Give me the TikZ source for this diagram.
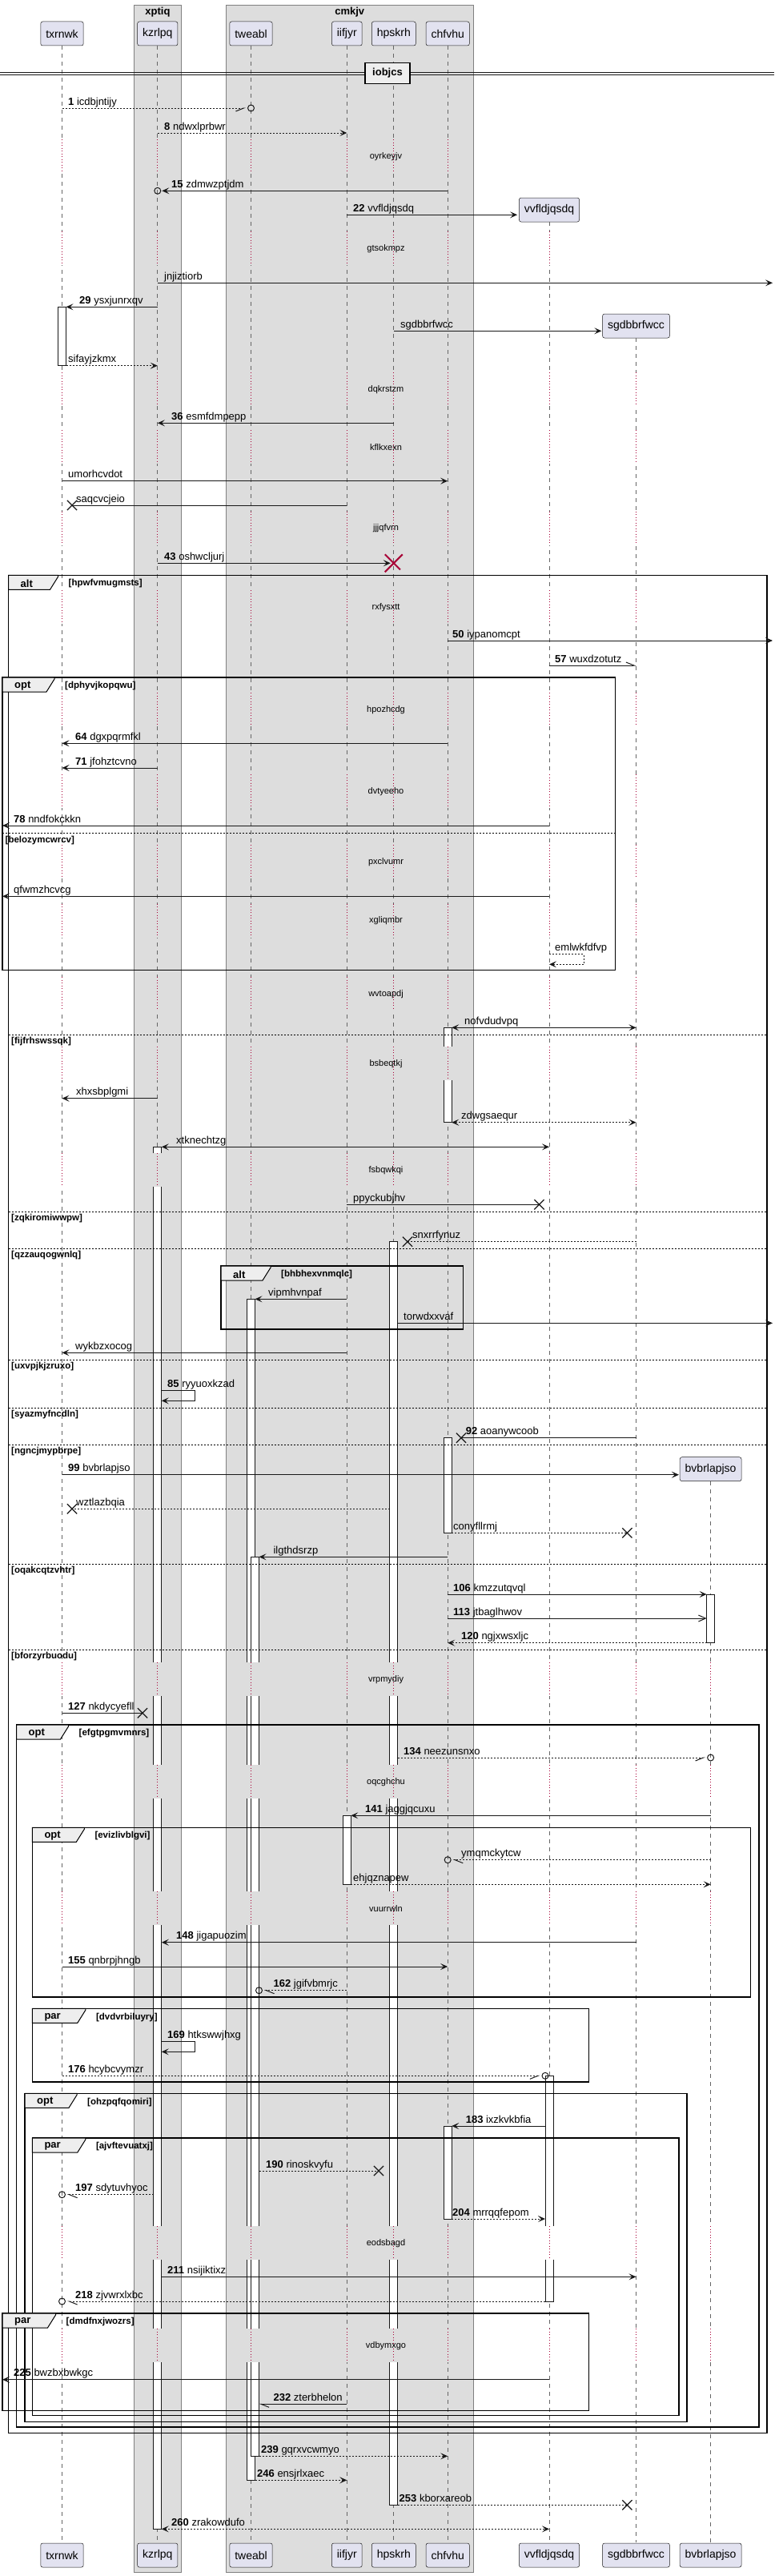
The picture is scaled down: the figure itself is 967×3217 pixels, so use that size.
\documentclass[tikz,border=0pt]{standalone}
\usepackage{fontspec}
\setmainfont{Liberation Sans}
\usetikzlibrary{arrows.meta,shapes.misc}
\definecolor{partfill}{HTML}{E2E2F0}
\definecolor{grpfill}{HTML}{DDDDDD}
\definecolor{tabfill}{HTML}{EEEEEE}
\definecolor{delayred}{HTML}{A80036}
\definecolor{ink}{HTML}{181818}

\def\lanesA{txrnwk/white,kzrlpq/grpfill,tweabl/grpfill,iifjyr/grpfill,hpskrh/grpfill,chfvhu/grpfill}
\edef\lanesB{\lanesA,vvfldjqsdq/white}
\edef\lanesC{\lanesB,sgdbbrfwcc/white}
\edef\lanesD{\lanesC,bvbrlapjso/white}

\tikzset{
  >={Stealth[length=9pt,width=8pt,inset=4pt]},
  part/.style={draw=ink, line width=0.5pt, fill=partfill, rounded corners=2.5pt,
    minimum height=30pt, inner xsep=6.5pt, inner ysep=0pt, font=\fontsize{14}{16}\selectfont},
  grp/.style={draw=black!50, line width=0.5pt, fill=grpfill},
  grptitle/.style={inner sep=0pt, font=\bfseries\fontsize{13}{15}\selectfont},
  divbox/.style={draw=black, line width=1.5pt, fill=tabfill, minimum width=56pt, minimum height=26pt,
    inner sep=0pt, font=\bfseries\fontsize{13}{15}\selectfont},
  lifeline/.style={draw=black!60, line width=0.7pt, dash pattern=on 5pt off 5pt},
  delayline/.style={draw=delayred, line width=0.8pt, dash pattern=on 1pt off 2.5pt},
  delaytext/.style={inner sep=0pt, font=\fontsize{11}{13}\selectfont},
  msg/.style={draw=ink, line width=1pt},
  dsh/.style={dash pattern=on 2pt off 2pt},
  half/.style={-{Straight Barb[length=10pt,width=8pt,harpoon]}},
  halfs/.style={-{Straight Barb[length=10pt,width=8pt,harpoon,swap]}},
  barb/.style={-{Straight Barb[length=9pt,width=8pt]}},
  mlabel/.style={anchor=base west, inner sep=0pt, font=\fontsize{13}{15}\selectfont},
  xmark/.style={cross out, solid, draw=ink, line width=1.2pt, minimum size=11pt, inner sep=0pt},
  kill/.style={cross out, solid, draw=delayred, line width=2pt, minimum size=20pt, inner sep=0pt},
  circ/.style={circle, solid, draw=ink, line width=1pt, minimum size=8pt, inner sep=0pt},
  actbar/.style={draw=ink, line width=0.8pt},
  grpframe/.style={draw=black, line width=1.5pt},
  tab/.style={draw=black, line width=1pt, fill=tabfill},
  kind/.style={anchor=west, inner sep=0pt, font=\bfseries\fontsize{13}{15}\selectfont},
  cond/.style={anchor=west, inner sep=0pt, font=\bfseries\fontsize{11.5}{13}\selectfont},
  elseline/.style={draw=black, line width=1pt, dash pattern=on 2pt off 2pt},
}

% activation bars: whole, closed top, open both ends, closed bottom
\newcommand\barbox[3]{\draw[actbar, fill=white] (#1,#2) rectangle (#1+10,#3);}
\newcommand\bartop[3]{\fill[white] (#1,#2) rectangle (#1+10,#3);
  \draw[actbar] (#1,#3) -- (#1,#2) -- (#1+10,#2) -- (#1+10,#3);}
\newcommand\barmid[3]{\fill[white] (#1,#2) rectangle (#1+10,#3);
  \draw[actbar] (#1,#2) -- (#1,#3) (#1+10,#2) -- (#1+10,#3);}
\newcommand\barend[3]{\fill[white] (#1,#2) rectangle (#1+10,#3);
  \draw[actbar] (#1,#2) -- (#1,#3) -- (#1+10,#3) -- (#1+10,#2);}

% delay: top y, text, lifelines, name
\newcommand\delaygap[4]{%
  \foreach \p/\bg in #3 {
    \draw[\bg, line width=2.5pt] (\p |- 0,#1) -- (\p |- 0,#1+42);
    \draw[delayline] (\p |- 0,#1) -- (\p |- 0,#1+42);
  }
  \node (#4) [delaytext] at (482,#1+21.5) {#2};}

% frame: name, x0, y0, x1, y1, kind, condition, tab width
\newcommand\seqframe[8]{%
  \draw[grpframe] (#2,#3) rectangle (#4,#5);
  \draw[tab] (#2,#3) -- (#2+#8,#3) -- (#2+#8,#3+2) -- (#2+#8-10,#3+18) -- (#2,#3+18) -- cycle;
  \node (#1-kind) [kind] at (#2+15,#3+10.7) {#6};
  \node (#1-cond) [cond] at (#2+#8+13,#3+10.7) {[#7]};}

% else line: name, x0, x1, y, condition
\newcommand\elsepart[5]{%
  \draw[elseline] (#2,#4) -- (#3,#4);
  \node (#1) [cond] at (#2+3.5,#4+8.5) {[#5]};}

\begin{document}
\begin{tikzpicture}[x=1pt,y=-1pt]
\useasboundingbox (0,0) rectangle (967,3217);
\fill[white] (0,0) rectangle (967,3217);

% boxes
\draw[grp] (167.6,6) rectangle (226.6,3212.3);
\draw[grp] (282.4,6) rectangle (591,3212.3);
\node (xptiq) [grptitle] at (197,15) {xptiq};
\node (cmkjv) [grptitle] at (436.7,15) {cmkjv};

% participants
\node (txrnwk) [part] at (77.5,42) {txrnwk};
\node (kzrlpq) [part] at (196.8,42) {kzrlpq};
\node (tweabl) [part] at (313.5,42) {tweabl};
\node (iifjyr) [part] at (433.3,42) {iifjyr};
\node (hpskrh) [part] at (491.8,42) {hpskrh};
\node (chfvhu) [part] at (559.2,42) {chfvhu};
\node (vvfldjqsdq) [part] at (686,262) {vvfldjqsdq};
\node (sgdbbrfwcc) [part] at (794.5,407) {sgdbbrfwcc};
\node (bvbrlapjso) [part] at (887.6,1834.7) {bvbrlapjso};

\coordinate (txrnwk-r) at ([xshift=5pt]txrnwk.center);
\coordinate (kzrlpq-l) at ([xshift=-5pt]kzrlpq.center);
\coordinate (kzrlpq-r) at ([xshift=5pt]kzrlpq.center);
\coordinate (tweabl-r) at ([xshift=5pt]tweabl.center);
\coordinate (tweabl-rr) at ([xshift=10pt]tweabl.center);
\coordinate (iifjyr-r) at ([xshift=5pt]iifjyr.center);
\coordinate (hpskrh-l) at ([xshift=-5pt]hpskrh.center);
\coordinate (hpskrh-r) at ([xshift=5pt]hpskrh.center);
\coordinate (chfvhu-r) at ([xshift=5pt]chfvhu.center);
\coordinate (vvfldjqsdq-l) at ([xshift=-5pt]vvfldjqsdq.center);
\coordinate (bvbrlapjso-l) at ([xshift=-5pt]bvbrlapjso.center);
\coordinate (left-edge) at (3,0);
\coordinate (right-edge) at (965,0);

% lifelines
\draw[lifeline] (txrnwk.south) -- (txrnwk |- 0,3175);
\draw[lifeline] (kzrlpq.south) -- (kzrlpq |- 0,3175);
\draw[lifeline] (tweabl.south) -- (tweabl |- 0,3175);
\draw[lifeline] (iifjyr.south) -- (iifjyr |- 0,3175);
\draw[lifeline] (hpskrh.south) -- (hpskrh |- 0,3175);
\draw[lifeline] (chfvhu.south) -- (chfvhu |- 0,3175);
\draw[lifeline] (vvfldjqsdq.south) -- (vvfldjqsdq |- 0,3175);
\draw[lifeline] (sgdbbrfwcc.south) -- (sgdbbrfwcc |- 0,3175);
\draw[lifeline] (bvbrlapjso.south) -- (bvbrlapjso |- 0,3175);

\node (txrnwk-end) [part] at (txrnwk |- 0,3191) {txrnwk};
\node (kzrlpq-end) [part] at (kzrlpq |- 0,3191) {kzrlpq};
\node (tweabl-end) [part] at (tweabl |- 0,3191) {tweabl};
\node (iifjyr-end) [part] at (iifjyr |- 0,3191) {iifjyr};
\node (hpskrh-end) [part] at (hpskrh |- 0,3191) {hpskrh};
\node (chfvhu-end) [part] at (chfvhu |- 0,3191) {chfvhu};
\node (vvfldjqsdq-end) [part] at (vvfldjqsdq |- 0,3191) {vvfldjqsdq};
\node (sgdbbrfwcc-end) [part] at (sgdbbrfwcc |- 0,3191) {sgdbbrfwcc};
\node (bvbrlapjso-end) [part] at (bvbrlapjso |- 0,3191) {bvbrlapjso};

% divider
\draw[ink, line width=1pt] (0,90) -- (967,90) (0,93.3) -- (967,93.3);
\node (iobjcs) [divbox] at (484,91.5) {iobjcs};

% delays
\delaygap{174}{oyrkeyjv}{\lanesA}{d1}
\delaygap{289}{gtsokmpz}{\lanesB}{d2}
\delaygap{465}{dqkrstzm}{\lanesC}{d3}
\delaygap{537}{kflkxexn}{\lanesC}{d4}
\delaygap{638.5}{jjjqfvrn}{\lanesC}{d5}
\delaygap{737}{rxfysxtt}{\lanesC}{d6}
\delaygap{865}{hpozhcdg}{\lanesC}{d7}
\delaygap{967}{dvtyeeho}{\lanesC}{d8}
\delaygap{1055}{pxclvumr}{\lanesC}{d9}
\delaygap{1128.5}{xgliqmbr}{\lanesC}{d10}
\delaygap{1220}{wvtoapdj}{\lanesC}{d11}
\delaygap{1307}{bsbeqtkj}{\lanesC}{d12}
\delaygap{1440}{fsbqwkqi}{\lanesC}{d13}
\delaygap{2076}{vrpmydiy}{\lanesD}{d14}
\delaygap{2204}{oqcghchu}{\lanesD}{d15}
\delaygap{2362}{vuurrwln}{\lanesD}{d16}
\delaygap{2780}{eodsbagd}{\lanesD}{d17}
\delaygap{2908}{vdbymxgo}{\lanesD}{d18}

% activations
\barbox{72}{383.3}{456.7}
\bartop{554.3}{1283.3}{1307}
\barend{554.3}{1349}{1401.7}
\bartop{191.8}{1432.3}{1440}
\barmid{191.8}{1482}{2076}
\barmid{191.8}{2118}{2204}
\barmid{191.8}{2246}{2362}
\barmid{191.8}{2404}{2780}
\barmid{191.8}{2822}{2908}
\barend{191.8}{2950}{3158.3}
\bartop{486.6}{1550.7}{2076}
\barmid{486.6}{2118}{2204}
\barmid{486.6}{2246}{2362}
\barmid{486.6}{2404}{2780}
\barmid{486.6}{2822}{2908}
\barend{486.6}{2950}{3128.3}
\bartop{308.5}{1622.3}{2076}
\barmid{308.5}{2118}{2204}
\barmid{308.5}{2246}{2362}
\barmid{308.5}{2404}{2780}
\barmid{308.5}{2822}{2908}
\barend{308.5}{2950}{3097.3}
\barbox{554.3}{1795.7}{1914.3}
\bartop{313.5}{1944.3}{2076}
\barmid{313.5}{2118}{2204}
\barmid{313.5}{2246}{2362}
\barmid{313.5}{2404}{2780}
\barmid{313.5}{2822}{2908}
\barend{313.5}{2950}{3067.3}
\barbox{882.6}{1991}{2051.7}
\barbox{428.3}{2267.3}{2353.3}
\bartop{681}{2592.3}{2780}
\barend{681}{2822}{2874}
\barbox{554.3}{2655}{2771}

% frames
\seqframe{alt1}{10.5}{718.3}{958}{3038.3}{alt}{hpwfvmugmsts}{62}
\seqframe{opt1}{3}{846}{768.5}{1211.7}{opt}{dphyvjkopqwu}{65}
\elsepart{e1}{3}{768.5}{1040.7}{belozymcwrcv}
\elsepart{e2}{10.5}{958}{1292.3}{fijfrhswssqk}
\elsepart{e3}{10.5}{958}{1513.3}{zqkiromiwwpw}
\elsepart{e4}{10.5}{958}{1559.3}{qzzauqogwnlq}
\seqframe{alt2}{276}{1581}{578.5}{1660}{alt}{bhbhexvnmqlc}{62}
\elsepart{e5}{10.5}{958}{1698.3}{uxvpjkjzruxo}
\elsepart{e6}{10.5}{958}{1758.3}{syazmyfncdln}
\elsepart{e7}{10.5}{958}{1804.3}{ngncjmypbrpe}
\elsepart{e8}{10.5}{958}{1953.3}{oqakcqtzvhtr}
\elsepart{e9}{10.5}{958}{2060}{bforzyrbuodu}
\seqframe{opt2}{20.5}{2154}{948}{3031}{opt}{efgtpgmvmnrs}{65}
\seqframe{opt3}{40.3}{2282.3}{937.3}{2494}{opt}{evizlivblgvi}{65}
\seqframe{par1}{40.3}{2508.3}{735.6}{2600}{par}{dvdvrbiluyry}{66.5}
\seqframe{opt4}{31}{2614.3}{858}{3024.3}{opt}{ohzpqfqomiri}{65}
\seqframe{par2}{40.3}{2670}{848}{3016.7}{par}{ajvftevuatxj}{66.5}
\seqframe{par3}{3}{2889}{735.6}{3010.7}{par}{dmdfnxjwozrs}{66.5}

% messages
\node (c1) [circ] at (tweabl |- 0,135) {};
\draw[msg, dsh, halfs, shorten >=2pt] (txrnwk |- 0,135) -- (c1.west);
\node (m1) [mlabel] at (85,131) {\textbf{1} icdbjntijy};
\draw[msg, dsh, ->] (kzrlpq |- 0,166) -- (iifjyr |- 0,166);
\node (m8) [mlabel] at (205,162) {\textbf{8} ndwxlprbwr};
\node (c15) [circ] at (kzrlpq |- 0,238.3) {};
\draw[msg, ->, shorten >=1pt] (chfvhu |- 0,238.3) -- (c15.east);
\node (m15) [mlabel] at (214,234.3) {\textbf{15} zdmwzptjdm};
\draw[msg, ->, shorten >=2pt] (iifjyr |- 0,268.3) -- (vvfldjqsdq.west |- 0,268.3);
\node (m22) [mlabel] at (441,264.3) {\textbf{22} vvfldjqsdq};
\draw[msg, ->] (kzrlpq |- 0,353.3) -- (right-edge |- 0,353.3);
\node (m-jnj) [mlabel] at (205,349.3) {jnjiztiorb};
\draw[msg, ->] (kzrlpq |- 0,383.3) -- (txrnwk-r |- 0,383.3);
\node (m29) [mlabel] at (99,379.3) {\textbf{29} ysxjunrxqv};
\draw[msg, ->, shorten >=1pt] (hpskrh |- 0,413.3) -- (sgdbbrfwcc.west |- 0,413.3);
\node (m-sgd) [mlabel] at (500,409.3) {sgdbbrfwcc};
\draw[msg, dsh, ->] (txrnwk-r |- 0,456.7) -- (kzrlpq |- 0,456.7);
\node (m-sif) [mlabel] at (85,452.7) {sifayjzkmx};
\draw[msg, ->] (hpskrh |- 0,528.3) -- (kzrlpq |- 0,528.3);
\node (m36) [mlabel] at (214,524.3) {\textbf{36} esmfdmpepp};
\draw[msg, ->] (txrnwk |- 0,600.7) -- (chfvhu |- 0,600.7);
\node (m-umo) [mlabel] at (85,596.7) {umorhcvdot};
\draw[msg] (iifjyr |- 0,631) -- (90,631) node (x-saq) [xmark] {};
\node (m-saq) [mlabel] at (95,627) {saqcvcjeio};
\draw[msg, ->, shorten >=4pt] (kzrlpq |- 0,703.3) -- (hpskrh |- 0,703.3) node (k43) [kill] {};
\node (m43) [mlabel] at (205,699.3) {\textbf{43} oshwcljurj};
\draw[msg, ->] (chfvhu |- 0,800) -- (right-edge |- 0,800);
\node (m50) [mlabel] at (565,796) {\textbf{50} iypanomcpt};
\draw[msg, half] (vvfldjqsdq |- 0,831) -- (sgdbbrfwcc |- 0,831);
\node (m57) [mlabel] at (693,827) {\textbf{57} wuxdzotutz};
\draw[msg, ->] (chfvhu |- 0,928.3) -- (txrnwk |- 0,928.3);
\node (m64) [mlabel] at (94,924.3) {\textbf{64} dgxpqrmfkl};
\draw[msg, ->] (kzrlpq |- 0,959) -- (txrnwk |- 0,959);
\node (m71) [mlabel] at (94,955) {\textbf{71} jfohztcvno};
\draw[msg, ->] (vvfldjqsdq |- 0,1031) -- (left-edge |- 0,1031);
\node (m78) [mlabel] at (17,1027) {\textbf{78} nndfokckkn};
\draw[msg, ->] (vvfldjqsdq |- 0,1119.3) -- (left-edge |- 0,1119.3);
\node (m-qfw) [mlabel] at (17,1115.3) {qfwmzhcvcg};
\draw[msg, dsh, ->] (vvfldjqsdq |- 0,1191.7) -- ++(43,0) -- ++(0,12.6) -- ++(-43,0);
\node (m-eml) [mlabel] at (693,1187.7) {emlwkfdfvp};
\draw[msg, <->] (chfvhu-r |- 0,1283.3) -- (sgdbbrfwcc |- 0,1283.3);
\node (m-nof) [mlabel] at (580,1279.3) {nofvdudvpq};
\draw[msg, ->] (kzrlpq |- 0,1371.7) -- (txrnwk |- 0,1371.7);
\node (m-xhx) [mlabel] at (95,1367.7) {xhxsbplgmi};
\draw[msg, dsh, <->] (chfvhu-r |- 0,1401.7) -- (sgdbbrfwcc |- 0,1401.7);
\node (m-zdw) [mlabel] at (576,1397.7) {zdwgsaequr};
\draw[msg, <->] (kzrlpq-r |- 0,1432.3) -- (vvfldjqsdq |- 0,1432.3);
\node (m-xtk) [mlabel] at (220,1428.3) {xtknechtzg};
\draw[msg] (iifjyr |- 0,1504.3) -- (673.5,1504.3) node (x-ppy) [xmark] {};
\node (m-ppy) [mlabel] at (441,1500.3) {ppyckubjhv};
\draw[msg, dsh] (sgdbbrfwcc |- 0,1550.7) -- (509,1550.7) node (x-snx) [xmark] {};
\node (m-snx) [mlabel] at (515,1546.7) {snxrrfynuz};
\draw[msg, ->] (iifjyr |- 0,1622.3) -- (tweabl-r |- 0,1622.3);
\node (m-vip) [mlabel] at (335,1618.3) {vipmhvnpaf};
\draw[msg, ->] (hpskrh-r |- 0,1652.3) -- (right-edge |- 0,1652.3);
\node (m-tor) [mlabel] at (504,1648.3) {torwdxxvaf};
\draw[msg, ->] (iifjyr |- 0,1689.3) -- (txrnwk |- 0,1689.3);
\node (m-wyk) [mlabel] at (94,1685.3) {wykbzxocog};
\draw[msg, ->] (kzrlpq-r |- 0,1736.7) -- ++(42,0) -- ++(0,12.6) -- ++(-42,0);
\node (m85) [mlabel] at (209,1732.7) {\textbf{85} ryyuoxkzad};
\draw[msg] (sgdbbrfwcc |- 0,1795.7) -- (576,1795.7) node (x92) [xmark] {};
\node (m92) [mlabel] at (581.6,1791.7) {\textbf{92} aoanywcoob};
\draw[msg, ->, shorten >=1pt] (txrnwk |- 0,1841.7) -- (bvbrlapjso.west |- 0,1841.7);
\node (m99) [mlabel] at (85,1837.7) {\textbf{99} bvbrlapjso};
\draw[msg, dsh] (hpskrh-l |- 0,1884.3) -- (90,1884.3) node (x-wzt) [xmark] {};
\node (m-wzt) [mlabel] at (95,1880.3) {wztlazbqia};
\draw[msg, dsh] (chfvhu-r |- 0,1914.3) -- (783.4,1914.3) node (x-con) [xmark] {};
\node (m-con) [mlabel] at (566,1910.3) {conyfllrmj};
\draw[msg, ->] (chfvhu |- 0,1944.3) -- (tweabl-rr |- 0,1944.3);
\node (m-ilg) [mlabel] at (341.4,1940.3) {ilgthdsrzp};
\draw[msg, ->] (chfvhu |- 0,1991) -- (bvbrlapjso-l |- 0,1991);
\node (m106) [mlabel] at (566,1987) {\textbf{106} kmzzutqvql};
\draw[msg, barb] (chfvhu |- 0,2021) -- (bvbrlapjso-l |- 0,2021);
\node (m113) [mlabel] at (566,2017) {\textbf{113} jtbaglhwov};
\draw[msg, dsh, ->] (bvbrlapjso-l |- 0,2051.7) -- (chfvhu |- 0,2051.7);
\node (m120) [mlabel] at (576,2047.7) {\textbf{120} ngjxwsxljc};
\draw[msg] (txrnwk |- 0,2139.3) -- (178,2139.3) node (x127) [xmark] {};
\node (m127) [mlabel] at (85,2135.3) {\textbf{127} nkdycyefll};
\node (c134) [circ] at (bvbrlapjso |- 0,2195) {};
\draw[msg, dsh, halfs, shorten >=2pt] (hpskrh-r |- 0,2195) -- (c134.west);
\node (m134) [mlabel] at (504,2191) {\textbf{134} neezunsnxo};
\draw[msg, ->] (bvbrlapjso |- 0,2267.3) -- (iifjyr-r |- 0,2267.3);
\node (m141) [mlabel] at (456,2263.3) {\textbf{141} jaggjqcuxu};
\node (c-ymq) [circ] at (chfvhu |- 0,2322.7) {};
\draw[msg, dsh, half, shorten >=2pt] (bvbrlapjso |- 0,2322.7) -- (c-ymq.east);
\node (m-ymq) [mlabel] at (576,2318.7) {ymqmckytcw};
\draw[msg, dsh, ->] (iifjyr-r |- 0,2353.3) -- (bvbrlapjso |- 0,2353.3);
\node (m-ehj) [mlabel] at (441,2349.3) {ehjqznapew};
\draw[msg, ->] (sgdbbrfwcc |- 0,2425.7) -- (kzrlpq-r |- 0,2425.7);
\node (m148) [mlabel] at (220,2421.7) {\textbf{148} jigapuozim};
\draw[msg, ->] (txrnwk |- 0,2456) -- (chfvhu |- 0,2456);
\node (m155) [mlabel] at (85,2452) {\textbf{155} qnbrpjhngb};
\node (c162) [circ] at (tweabl-rr |- 0,2485.7) {};
\draw[msg, dsh, half, shorten >=2pt] (iifjyr |- 0,2485.7) -- (c162.east);
\node (m162) [mlabel] at (341.4,2481.7) {\textbf{162} jgifvbmrjc};
\draw[msg, ->] (kzrlpq-r |- 0,2549.3) -- ++(42,0) -- ++(0,13) -- ++(-42,0);
\node (m169) [mlabel] at (209,2545.3) {\textbf{169} htkswwjhxg};
\node (c176) [circ] at (vvfldjqsdq-l |- 0,2592.3) {};
\draw[msg, dsh, halfs, shorten >=2pt] (txrnwk |- 0,2592.3) -- (c176.west);
\node (m176) [mlabel] at (85,2588.3) {\textbf{176} hcybcvymzr};
\draw[msg, ->] (vvfldjqsdq-l |- 0,2655) -- (chfvhu-r |- 0,2655);
\node (m183) [mlabel] at (581.6,2651) {\textbf{183} ixzkvkbfia};
\draw[msg, dsh] (tweabl-rr |- 0,2711) -- (473,2711) node (x190) [xmark] {};
\node (m190) [mlabel] at (332,2707) {\textbf{190} rinoskvyfu};
\node (c197) [circ] at (txrnwk |- 0,2740.7) {};
\draw[msg, dsh, half, shorten >=2pt] (kzrlpq-l |- 0,2740.7) -- (c197.east);
\node (m197) [mlabel] at (94,2736.7) {\textbf{197} sdytuvhyoc};
\draw[msg, dsh, ->] (chfvhu-r |- 0,2771) -- (vvfldjqsdq-l |- 0,2771);
\node (m204) [mlabel] at (565,2767) {\textbf{204} mrrqqfepom};
\draw[msg, ->] (kzrlpq-r |- 0,2843.3) -- (sgdbbrfwcc |- 0,2843.3);
\node (m211) [mlabel] at (209,2839.3) {\textbf{211} nsijiktixz};
\node (c218) [circ] at (txrnwk |- 0,2874) {};
\draw[msg, dsh, half, shorten >=2pt] (vvfldjqsdq-l |- 0,2874) -- (c218.east);
\node (m218) [mlabel] at (94,2870) {\textbf{218} zjvwrxlxbc};
\draw[msg, ->] (vvfldjqsdq |- 0,2971.7) -- (left-edge |- 0,2971.7);
\node (m225) [mlabel] at (17,2967.7) {\textbf{225} bwzbxbwkgc};
\draw[msg, half] (iifjyr |- 0,3002.3) -- (tweabl-rr |- 0,3002.3);
\node (m232) [mlabel] at (341.4,2998.3) {\textbf{232} zterbhelon};
\draw[msg, dsh, ->] (tweabl-rr |- 0,3067.3) -- (chfvhu |- 0,3067.3);
\node (m239) [mlabel] at (326,3063.3) {\textbf{239} gqrxvcwmyo};
\draw[msg, dsh, ->] (tweabl-r |- 0,3097.3) -- (iifjyr |- 0,3097.3);
\node (m246) [mlabel] at (321,3093.3) {\textbf{246} ensjrlxaec};
\draw[msg, dsh] (hpskrh-r |- 0,3128.3) -- (783.4,3128.3) node (x253) [xmark] {};
\node (m253) [mlabel] at (498.5,3124.3) {\textbf{253} kborxareob};
\draw[msg, dsh, <->] (kzrlpq-r |- 0,3158.3) -- (vvfldjqsdq |- 0,3158.3);
\node (m260) [mlabel] at (214,3154.3) {\textbf{260} zrakowdufo};
\end{tikzpicture}
\end{document}
